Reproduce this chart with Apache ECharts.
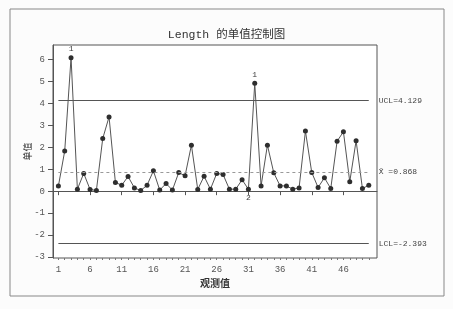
<!DOCTYPE html>
<html><head><meta charset="utf-8">
<script src="https://cdn.jsdelivr.net/npm/echarts@6/dist/echarts.min.js"></script>
<style>html,body{margin:0;padding:0;background:#fcfcfc;}#c{width:453px;height:309px;}</style>
</head><body><div id="c"></div>
<script>
const titleText = 'Length 的单值控制图';
const xName = '观测值';
const yName = '单值';
const values = [0.23,1.83,6.09,0.09,0.81,0.08,0.03,2.40,3.39,0.40,
                0.27,0.67,0.15,0.03,0.27,0.93,0.05,0.35,0.05,0.85,
                0.70,2.10,0.08,0.68,0.09,0.81,0.76,0.09,0.09,0.52,
                0.09,4.92,0.24,2.10,0.84,0.24,0.24,0.09,0.15,2.74,
                0.85,0.17,0.61,0.12,2.28,2.71,0.43,2.30,0.12,0.27];
const UCL = 4.129, CL = 0.868, LCL = -2.393;
const xTicks = [1,6,11,16,21,26,31,36,41,46];
const yTicks = [-3,-2,-1,0,1,2,3,4,5,6];
const flagAbove = {3:'1', 32:'1'};
const flagBelow = {31:'2'};

const font = 'Liberation Mono, Noto Sans CJK SC, monospace';
const ink = '#3a3a3a';
const data = values.map((v,i)=>{
  const n = i+1;
  const d = {value:[n,v]};
  if (flagAbove[n]) d.label = {show:true, formatter:flagAbove[n], position:'top', distance:2, fontSize:8, color:ink, fontFamily:font};
  if (flagBelow[n]) d.label = {show:true, formatter:flagBelow[n], position:'bottom', distance:2, fontSize:8, color:ink, fontFamily:font};
  return d;
});
const n = values.length;
const chart = echarts.init(document.getElementById('c'));
chart.setOption({
  backgroundColor:'#fcfcfc',
  animation:false,
  title:{text:titleText,left:'center',top:24,textStyle:{fontSize:11.5,fontWeight:'normal',color:'#333',fontFamily:font}},
  graphic:[{type:'rect',shape:{x:10,y:9,width:434,height:287},style:{fill:'none',stroke:'#888',lineWidth:1}}],
  grid:{left:53,right:76,top:45,bottom:51,show:true,borderColor:'#555',borderWidth:1,backgroundColor:'#fff'},
  xAxis:[{
    type:'value',min:0.15,max:51.3,
    name:xName,nameLocation:'middle',nameGap:21,nameMoveOverlap:false,
    nameTextStyle:{fontSize:10,color:'#333',fontFamily:font,fontWeight:'bold'},
    axisLine:{lineStyle:{color:'#555'}},
    axisTick:{show:true,customValues:xTicks,length:4,lineStyle:{color:'#555'}},
    axisLabel:{customValues:xTicks,fontSize:9,color:'#555',fontFamily:font,margin:7},
    splitLine:{show:false}
  },{
    type:'value',min:0.15,max:51.3,position:'bottom',
    axisLine:{show:false},
    axisTick:{show:true,customValues:values.map((v,i)=>i+1),length:2,lineStyle:{color:'#777'}},
    axisLabel:{show:false},splitLine:{show:false}
  }],
  yAxis:{
    type:'value',min:-3.05,max:6.67,
    name:yName,nameLocation:'middle',nameGap:20,nameRotate:90,nameMoveOverlap:false,
    nameTextStyle:{fontSize:9,color:'#333',fontFamily:font},
    axisLine:{show:true,lineStyle:{color:'#555'}},
    axisTick:{show:true,customValues:yTicks,length:5,lineStyle:{color:'#555'}},
    axisLabel:{customValues:yTicks,fontSize:9,color:'#555',fontFamily:font,margin:8},
    splitLine:{show:false}
  },
  series:[{
    type:'line',data:data,symbol:'circle',symbolSize:5,
    itemStyle:{color:'#2e2e2e'},lineStyle:{color:'#555',width:1},
    markLine:{
      silent:true,symbol:'none',
      label:{position:'end',distance:10,fontSize:8,color:'#444',fontFamily:font},
      data:[
        [{coord:[1,UCL],lineStyle:{color:'#555',type:'solid',width:1},label:{formatter:'UCL='+UCL}},{coord:[n,UCL]}],
        [{coord:[1,CL],lineStyle:{color:'#999',type:[3,3],width:1},label:{formatter:'X\u0304 ='+CL}},{coord:[n,CL]}],
        [{coord:[1,LCL],lineStyle:{color:'#555',type:'solid',width:1},label:{formatter:'LCL='+LCL}},{coord:[n,LCL]}]
      ]
    }
  }]
});
</script></body></html>
